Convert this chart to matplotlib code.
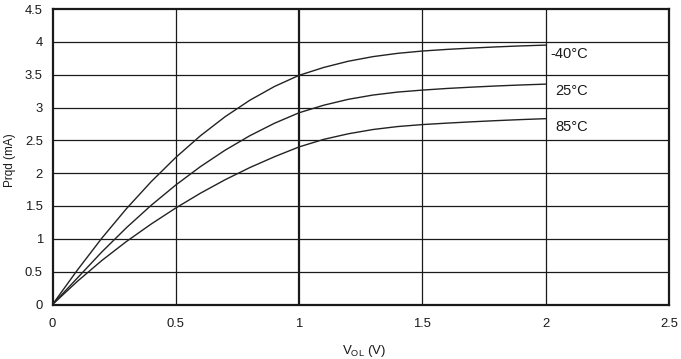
import matplotlib
matplotlib.use("Agg")
import matplotlib.pyplot as plt
from matplotlib.ticker import FuncFormatter

plt.rcParams['font.family'] = ['Liberation Sans', 'DejaVu Sans']
plt.rcParams['mathtext.fontset'] = 'custom'
plt.rcParams['mathtext.rm'] = 'Liberation Sans'

vol = [0.0, 0.1, 0.2, 0.3, 0.4, 0.5, 0.6, 0.7, 0.8, 0.9, 1.0,
       1.1, 1.2, 1.3, 1.4, 1.5, 1.6, 1.7, 1.8, 1.9, 2.0]
i_m40 = [0.0, 0.52, 1.01, 1.46, 1.87, 2.24, 2.57, 2.86, 3.11, 3.32, 3.49,
         3.61, 3.705, 3.775, 3.825, 3.86, 3.885, 3.905, 3.923, 3.938, 3.95]
i_25 = [0.0, 0.40, 0.80, 1.17, 1.51, 1.82, 2.10, 2.35, 2.57, 2.76, 2.92,
        3.035, 3.125, 3.19, 3.235, 3.265, 3.29, 3.31, 3.328, 3.343, 3.356]
i_85 = [0.0, 0.35, 0.67, 0.96, 1.225, 1.47, 1.695, 1.90, 2.085, 2.25, 2.40,
        2.515, 2.60, 2.665, 2.71, 2.74, 2.762, 2.782, 2.80, 2.816, 2.83]
labels = ["-40°C", "25°C", "85°C"]
label_pos = [(2.018, 3.81), (2.038, 3.25), (2.038, 2.70)]
xticks = [0, 0.5, 1, 1.5, 2, 2.5]
yticks = [0, 0.5, 1, 1.5, 2, 2.5, 3, 3.5, 4, 4.5]

fig = plt.figure(figsize=(6.81, 3.59), dpi=100)
ax = fig.add_axes([52.5/681, 1 - 304.5/359, (669 - 52.5)/681, (304.5 - 9)/359])

ax.set_xlim(0, 2.5)
ax.set_ylim(0, 4.5)
ax.set_xticks(xticks)
ax.set_yticks(yticks)
fmt = FuncFormatter(lambda v, p: ('%g' % v))
ax.xaxis.set_major_formatter(fmt)
ax.yaxis.set_major_formatter(fmt)
ax.tick_params(length=0, labelsize=9.4, colors='#1a1a1a')
ax.tick_params(axis='y', pad=7)
ax.tick_params(axis='x', pad=10)

for x in xticks[1:-1]:
    ax.axvline(x, color='#1a1a1a', lw=1.6 if x == 1 else 0.9, zorder=1)
for y in yticks[1:-1]:
    ax.axhline(y, color='#1a1a1a', lw=0.9, zorder=1)

for s in ax.spines.values():
    s.set_linewidth(1.6)
    s.set_color('#1a1a1a')

for ys in (i_m40, i_25, i_85):
    ax.plot(vol, ys, color='#222222', lw=1.0, zorder=3)

for lab, (x, y) in zip(labels, label_pos):
    ax.text(x, y, lab, fontsize=10.5, va='center', ha='left', color='#1a1a1a')

fig.text(364/681, 1 - 351/359, r'V$_{\mathregular{OL}}$ (V)', fontsize=9.5,
         ha='center', va='center', color='#1a1a1a')
fig.text(10/681, 1 - 160/359, 'Prqd (mA)', fontsize=8.5, rotation=90,
         ha='center', va='center', color='#1a1a1a')

fig.savefig('out.png', dpi=100)
